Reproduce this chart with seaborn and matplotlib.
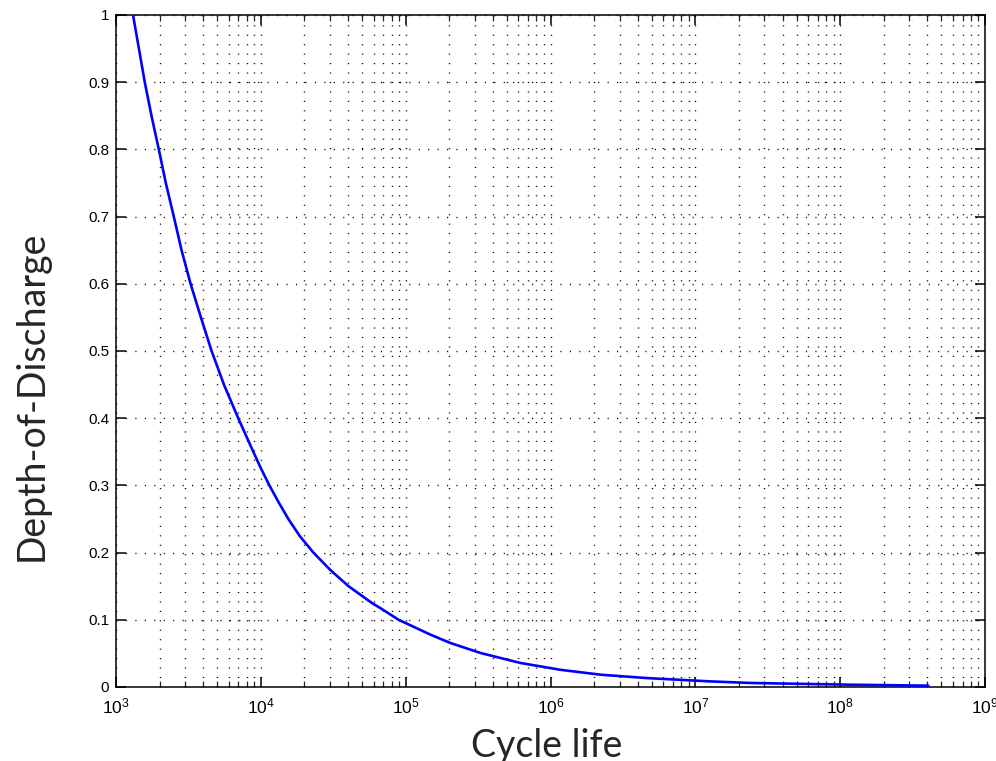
import numpy as np
import pandas as pd
import seaborn as sns
import matplotlib
matplotlib.use("Agg")
import matplotlib.pyplot as plt
from matplotlib.ticker import LogLocator, FixedLocator, NullFormatter, FuncFormatter

# Data
cycle_life = [1311, 1580, 1758, 1975, 2208, 2506, 2836, 3273, 3857, 4571, 5561, 6982,
              8873, 10030, 11460, 13210, 15490, 18660, 23070, 30060, 40320, 58480, 66800,
              89450, 148000, 204000, 329000, 622000, 1.18e6, 2.22e6, 4.68e6, 1.28e7,
              2.4e7, 1.19e8, 4.06e8]
depth_of_discharge = [1.0, 0.9, 0.85, 0.8, 0.75, 0.7, 0.65, 0.6, 0.55, 0.5, 0.45, 0.4,
                      0.35, 0.325, 0.3, 0.2756, 0.25, 0.224, 0.2, 0.1745, 0.15, 0.125, 0.1175,
                      0.1, 0.078, 0.0654, 0.0506, 0.0357, 0.0255, 0.0183, 0.0132, 0.0083,
                      0.006, 0.0034, 0.002]
y_ticks = [0, 0.1, 0.2, 0.3, 0.4, 0.5, 0.6, 0.7, 0.8, 0.9, 1]
y_tick_labels = ["0", "0.1", "0.2", "0.3", "0.4", "0.5", "0.6", "0.7", "0.8", "0.9", "1"]
x_label = "Cycle life"
y_label = "Depth-of-Discharge"

df = pd.DataFrame({"N": cycle_life, "DoD": depth_of_discharge})

sns.set_theme(style="white")
plt.rcParams["font.family"] = ["Liberation Sans", "DejaVu Sans"]
plt.rcParams["mathtext.fontset"] = "custom"
plt.rcParams["mathtext.rm"] = "Liberation Sans"
plt.rcParams["mathtext.it"] = "Liberation Sans"
plt.rcParams["mathtext.default"] = "regular"

fig = plt.figure(figsize=(9.96, 7.61), dpi=100)
ax = fig.add_axes([116 / 996, 1 - 687 / 761, (985 - 116) / 996, (687 - 15) / 761])

ax.set_xscale("log")
ax.set_xlim(1e3, 1e9)
ax.set_ylim(0, 1)

grid_kw = dict(color="black", linewidth=1.0, linestyle=(0, (0.8, 6.0)))
ax.xaxis.set_major_locator(LogLocator(base=10, numticks=20))
ax.xaxis.set_major_formatter(FuncFormatter(lambda v, p: r"$\mathregular{10^{%d}}$" % round(np.log10(v))))
ax.xaxis.set_minor_locator(LogLocator(base=10, subs=np.arange(2, 10), numticks=100))
ax.xaxis.set_minor_formatter(NullFormatter())
ax.yaxis.set_major_locator(FixedLocator(y_ticks))
ax.set_yticklabels(y_tick_labels)
ax.grid(True, which="major", axis="both", **grid_kw)
ax.grid(True, which="minor", axis="x", **grid_kw)

sns.lineplot(data=df, x="N", y="DoD", ax=ax, color="#0000ff", linewidth=1.9, zorder=3)

ax.set_xlabel("")
ax.set_ylabel("")
for s in ax.spines.values():
    s.set_color("black")
    s.set_linewidth(1.1)
    s.set_visible(True)

ax.tick_params(axis="both", which="major", direction="in", length=7, width=1.1,
               top=True, right=True, bottom=True, left=True, colors="black")
ax.tick_params(axis="y", which="major", labelsize=11, pad=5)
ax.tick_params(axis="x", which="major", labelsize=12.5, pad=7)
ax.tick_params(axis="x", which="minor", direction="in", length=4, width=0.9,
               top=True, bottom=True)
ax.tick_params(axis="y", which="minor", left=False, right=False)

fig.text(547 / 996, 1 - 757 / 761, x_label, ha="center", va="baseline",
         fontsize=27, family=["Lato", "DejaVu Sans"])
fig.text(43 / 996, 1 - 396 / 761, y_label, ha="center", va="baseline", rotation=90,
         rotation_mode="anchor", fontsize=27, family=["Lato", "DejaVu Sans"])

fig.savefig("out.png", dpi=100)
